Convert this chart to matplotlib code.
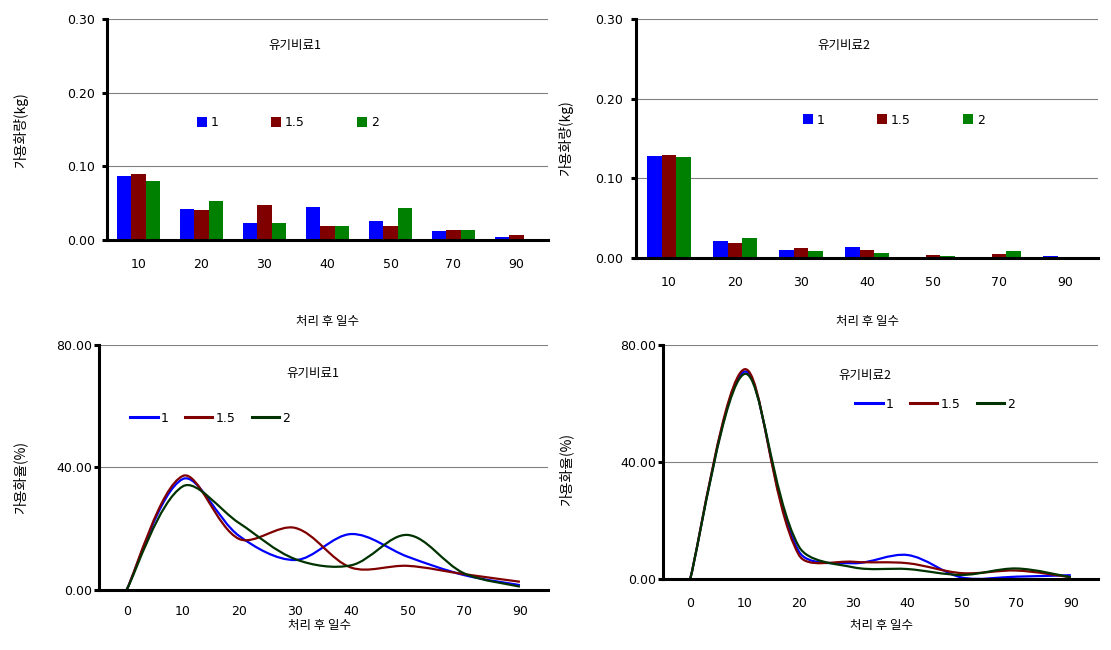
import numpy as np
import matplotlib
matplotlib.use('Agg')
import matplotlib.pyplot as plt
from matplotlib.path import Path
from matplotlib.patches import PathPatch
from matplotlib.lines import Line2D

plt.rcParams['font.family'] = ['DejaVu Sans', 'Noto Sans CJK KR']
KR = ['Noto Sans CJK KR', 'DejaVu Sans']

# bar charts: soluble amount (kg)
bar_days = ['10', '20', '30', '40', '50', '70', '90']
series_names = ['1', '1.5', '2']
fert1_kg_1 = [0.087, 0.042, 0.023, 0.045, 0.026, 0.012, 0.004]
fert1_kg_15 = [0.089, 0.041, 0.0475, 0.019, 0.019, 0.0136, 0.007]
fert1_kg_2 = [0.080, 0.053, 0.023, 0.019, 0.0434, 0.0136, 0.0]
fert2_kg_1 = [0.128, 0.0217, 0.0104, 0.0142, 0.0, 0.0, 0.0029]
fert2_kg_15 = [0.1295, 0.0184, 0.0129, 0.0104, 0.0042, 0.0054, 0.0]
fert2_kg_2 = [0.127, 0.0255, 0.0092, 0.0067, 0.0029, 0.0092, 0.0]

# line charts: solubilisation rate (%)
line_days = ['0', '10', '20', '30', '40', '50', '70', '90']
fert1_pct_1 = [0, 36.2, 17.6, 9.7, 18.2, 10.8, 4.8, 1.5]
fert1_pct_15 = [0, 37.2, 16.6, 20.2, 7.2, 7.8, 5.1, 2.6]
fert1_pct_2 = [0, 33.8, 21.8, 10.0, 8.0, 17.9, 5.4, 1.0]
fert2_pct_1 = [0, 71.0, 9.4, 5.4, 8.2, 0.5, 0.8, 1.3]
fert2_pct_15 = [0, 71.8, 8.2, 5.9, 5.4, 2.0, 2.9, 0.6]
fert2_pct_2 = [0, 70.2, 11.1, 4.0, 3.4, 1.4, 3.6, 0.6]

bar_colors = ['#0000FF', '#800000', '#008000']
line_colors = ['#0000FF', '#800000', '#003300']

W, H = 1111, 650
fig = plt.figure(figsize=(W / 100, H / 100), dpi=100)


def add_ax(l, t, r, b):
    return fig.add_axes([l / W, 1 - b / H, (r - l) / W, (b - t) / H])


def style(ax, ymax, yticks, xpad, ypad):
    for s in ['top', 'right']:
        ax.spines[s].set_visible(False)
    for s in ['left', 'bottom']:
        ax.spines[s].set_linewidth(2.2)
    ax.set_ylim(0, ymax)
    ax.set_yticks(yticks)
    ax.set_yticklabels(['%.2f' % v for v in yticks])
    ax.yaxis.grid(True, color='#808080', lw=0.8)
    ax.set_axisbelow(True)
    ax.tick_params(axis='y', length=3.6, width=2.2, pad=ypad, labelsize=9)
    ax.tick_params(axis='x', length=0, pad=xpad, labelsize=9)


def smooth_path(ax, xs, ys):
    # spreadsheet-style smoothed line: cubic bezier through the points,
    # tangents shortened on the shorter (screen-space) side
    pts = np.column_stack([xs, ys]).astype(float)
    disp = ax.transData.transform(pts)
    n = len(pts)
    verts = [pts[0]]
    codes = [Path.MOVETO]
    for i in range(n - 1):
        a, b = max(i - 1, 0), min(i + 2, n - 1)
        d_prev = np.hypot(*(disp[i] - disp[a])) if i > 0 else np.hypot(*(disp[i + 1] - disp[i]))
        d_seg = np.hypot(*(disp[i + 1] - disp[i]))
        d_next = np.hypot(*(disp[b] - disp[i + 1])) if i + 2 < n else d_seg
        t1 = pts[i + 1] - pts[a]
        t2 = pts[b] - pts[i]
        c1 = pts[i] + t1 * d_seg / (d_prev + d_seg) / 3
        c2 = pts[i + 1] - t2 * d_seg / (d_seg + d_next) / 3
        verts += [c1, c2, pts[i + 1]]
        codes += [Path.CURVE4] * 3
    return Path(verts, codes)


def bar_panel(box, data, xpad, ypad, leg_xy):
    ax = add_ax(*box)
    x = np.arange(len(bar_days))
    bw = 0.227
    for i, vals in enumerate(data):
        ax.bar(x + (i - 1) * bw, vals, bw, color=bar_colors[i], label=series_names[i])
    ax.set_xlim(-0.5, len(bar_days) - 0.5)
    ax.set_xticks(x)
    ax.set_xticklabels(bar_days)
    style(ax, 0.30, [0, 0.1, 0.2, 0.3], xpad, ypad)
    ax.legend(loc='center left', bbox_to_anchor=(leg_xy[0] / W, 1 - leg_xy[1] / H),
              bbox_transform=fig.transFigure, ncol=3, frameon=False, fontsize=9,
              borderpad=0, borderaxespad=0, handlelength=0.8, handleheight=0.8,
              handletextpad=0.3, columnspacing=4.2)
    return ax


def line_panel(box, data, xpad, ypad, leg_xy):
    ax = add_ax(*box)
    x = np.arange(len(line_days))
    ax.set_xlim(-0.5, len(line_days) - 0.5)
    style(ax, 80, [0, 40, 80], xpad, ypad)
    handles = []
    for i, vals in enumerate(data):
        ax.add_patch(PathPatch(smooth_path(ax, x, vals), fill=False,
                               edgecolor=line_colors[i], lw=1.6))
        handles.append(Line2D([], [], color=line_colors[i], lw=2.2, label=series_names[i]))
    ax.set_xticks(x)
    ax.set_xticklabels(line_days)
    ax.legend(handles=handles, loc='center left',
              bbox_to_anchor=(leg_xy[0] / W, 1 - leg_xy[1] / H),
              bbox_transform=fig.transFigure, ncol=3, frameon=False, fontsize=9,
              borderpad=0, borderaxespad=0, handlelength=2.2,
              handletextpad=0.25, columnspacing=1.3)
    return ax


bar_panel((107, 19, 548, 240), [fert1_kg_1, fert1_kg_15, fert1_kg_2], 13, 5, (197, 123))
bar_panel((636, 19.3, 1098, 258), [fert2_kg_1, fert2_kg_15, fert2_kg_2], 13, 6, (803, 120))
line_panel((98.6, 345, 548, 589.7), [fert1_pct_1, fert1_pct_15, fert1_pct_2], 11, 1, (130, 418))
line_panel((663, 345.3, 1098, 579), [fert2_pct_1, fert2_pct_15, fert2_pct_2], 13, 1, (855, 404))


def ftext(x, y, s, rot=0, size=9):
    fig.text(x / W, 1 - y / H, s, ha='center', va='center', rotation=rot,
             fontsize=size, family=KR)


ftext(295, 46, '유기비료1')
ftext(844, 46, '유기비료2')
ftext(313, 373, '유기비료1')
ftext(865, 376, '유기비료2')
ftext(328, 322, '처리 후 일수')
ftext(867, 322, '처리 후 일수')
ftext(320, 625, '처리 후 일수')
ftext(881, 625, '처리 후 일수')
ftext(21, 130, '가용화량(kg)', 90, 10)
ftext(566, 138, '가용화량(kg)', 90, 10)
ftext(20, 477, '가용화율(%)', 90, 10)
ftext(566, 470, '가용화율(%)', 90, 10)

fig.savefig('out.png', dpi=100)
